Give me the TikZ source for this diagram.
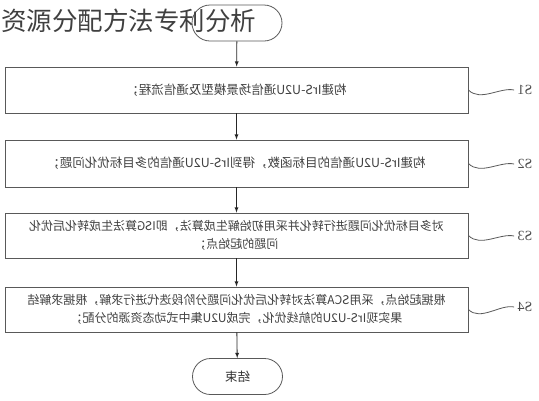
\documentclass[tikz,border=0pt]{standalone}
\usepackage{fontspec}
\setmainfont{Liberation Serif}
\newfontfamily\cjk{Noto Sans CJK SC}
\usetikzlibrary{arrows}
\newcommand{\flip}[1]{\scalebox{-1}[1]{#1}}

\begin{document}
\begin{tikzpicture}[x=1pt,y=-1pt,
  stepbox/.style={draw=black!65,line width=0.8pt,minimum width=463pt,align=center,
    font=\cjk\fontsize{12.5}{19}\selectfont,text=black!75,inner sep=0pt},
  twoline/.style={font=\cjk\fontsize{12}{18.5}\selectfont},
  term/.style={draw=black!65,line width=0.8pt,rounded corners=18pt,minimum width=90pt,
    minimum height=36pt,font=\cjk\fontsize{12.5}{13}\selectfont,text=black!80},
  tag/.style={font=\fontsize{14}{14}\selectfont,text=black!70},
  wave/.style={draw=black!65,line width=0.8pt},
  flow/.style={-latex,draw=black!85,line width=0.8pt}]
\useasboundingbox (0,0) rectangle (539,400);
\node (start) [term] at (237,23) {};
\node (s1) [stepbox,minimum height=46pt] at (236.5,90) {\flip{构建IrS-U2U通信场景模型及通信流程；}};
\node (s2) [stepbox,minimum height=47pt] at (236.5,163.5) {\flip{构建IrS-U2U通信的目标函数，得到IrS-U2U通信的多目标优化问题；}};
\node (s3) [stepbox,twoline,minimum height=45pt] at (236.5,235.5) {\flip{对多目标优化问题进行转化并采用初始解生成算法，即ISG算法生成转化后优化}\\\flip{问题的起始点；}};
\node (s4) [stepbox,twoline,minimum height=45pt] at (236.5,309.5) {\flip{根据起始点，采用SCA算法对转化后优化问题分阶段迭代进行求解，根据求解结}\\\flip{果实现IrS-U2U的航线优化，完成U2U集中式动态资源的分配；}};
\node (end) [term] at (237.5,376.5) {\flip{结束}};
\node (l1) [tag] at (525,90) {\flip{S1}};
\node (l2) [tag] at (525,164) {\flip{S2}};
\node (l3) [tag] at (525,236) {\flip{S3}};
\node (l4) [tag] at (525,307) {\flip{S4}};
\node (title) [anchor=west,inner sep=0pt,font=\cjk\fontsize{25.5}{26}\selectfont,text=black!75] at (1,21) {资源分配方法专利分析};
\draw[flow] (start) to (s1) ;
\draw[flow] (s1) to (s2) ;
\draw[flow] (s2) to (s3) ;
\draw[flow] (s3) to (s4) ;
\draw[flow] (s4) to (end) ;
\draw[wave] (s1.east) .. controls +(12,12) and +(-14,-3) .. (l1.west) ;
\draw[wave] (s2.east) .. controls +(12,12) and +(-14,-3) .. (l2.west) ;
\draw[wave] (s3.east) .. controls +(12,12) and +(-14,-3) .. (l3.west) ;
\draw[wave] (s4.east) .. controls +(12,12) and +(-14,-3) .. (l4.west) ;
\end{tikzpicture}
\end{document}
